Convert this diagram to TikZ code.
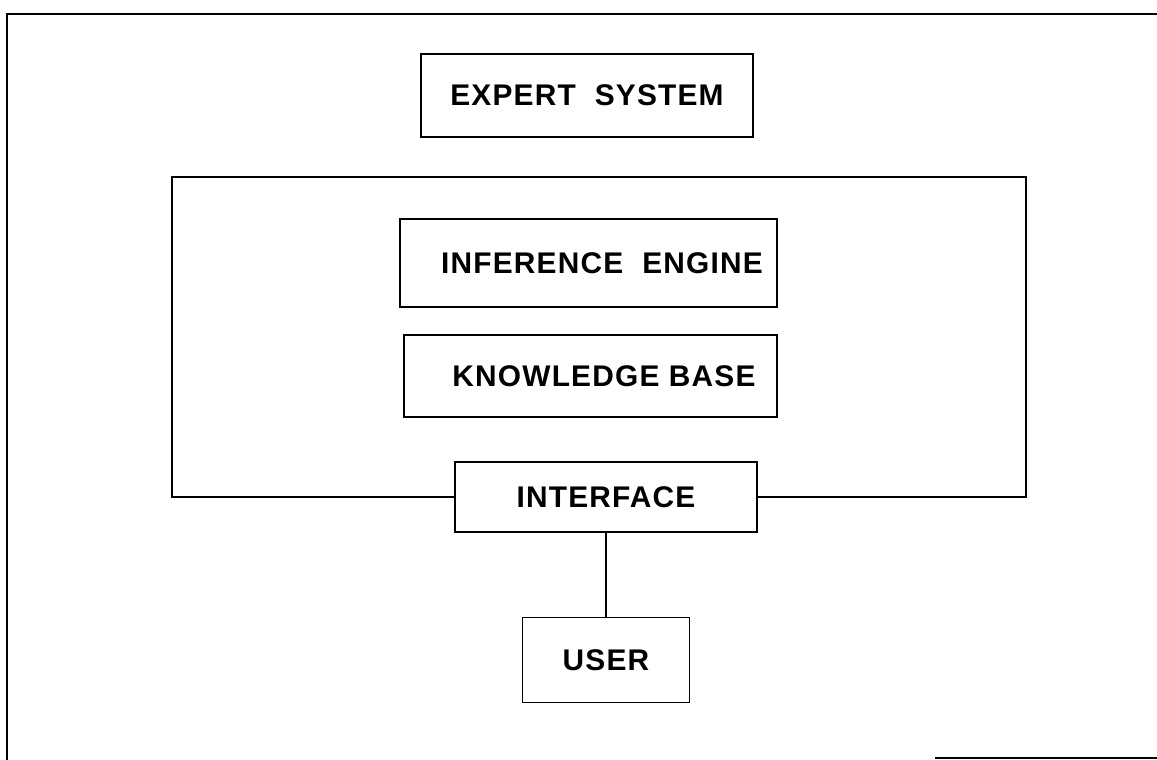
\documentclass[tikz,border=0pt]{standalone}
\usepackage{fontspec}
\setmainfont{Liberation Sans}[LetterSpace=4]
\usepackage{tikz}
\usetikzlibrary{shapes,arrows}
\tikzstyle{block} = [rectangle, draw, line width=1pt, text centered, font=\bfseries\fontsize{17}{20}\selectfont]
\tikzstyle{line} = [draw, line width=1.3pt]

\begin{document}
\begin{tikzpicture}[x=0.02cm, y=-0.02cm]
\useasboundingbox (0,0) rectangle (1157,760);
% page frame
\draw [line width=1.1pt] (7,760) -- (7,14) -- (1157,14);
\draw [line width=1.1pt] (935,758) -- (1157,758);
\node [block, minimum width=6.64cm, minimum height=1.66cm] (expert) at (587,95.5) {EXPERT\ \ SYSTEM};
\node [block, minimum width=7.54cm, minimum height=1.76cm] (engine) at (588.5,263) {\hspace*{0.54cm}INFERENCE\ \ ENGINE};
\node [block, minimum width=7.46cm, minimum height=1.64cm] (kbase) at (590.5,376) {\hspace*{0.54cm}KNOWLEDGE\ BASE};
\node [block, minimum width=6.04cm, minimum height=1.40cm] (iface) at (606,497) {INTERFACE};
\node [block, minimum width=3.34cm, minimum height=1.70cm] (user) at (606,660) {USER};
\coordinate (nw) at (172,177);
\coordinate (ne) at (1026,177);
\path [line] (iface.west) -| (nw) -- (ne) |- (iface.east);
\path [line, line width=1pt] (iface) -- (user);
\end{tikzpicture}
\end{document}
